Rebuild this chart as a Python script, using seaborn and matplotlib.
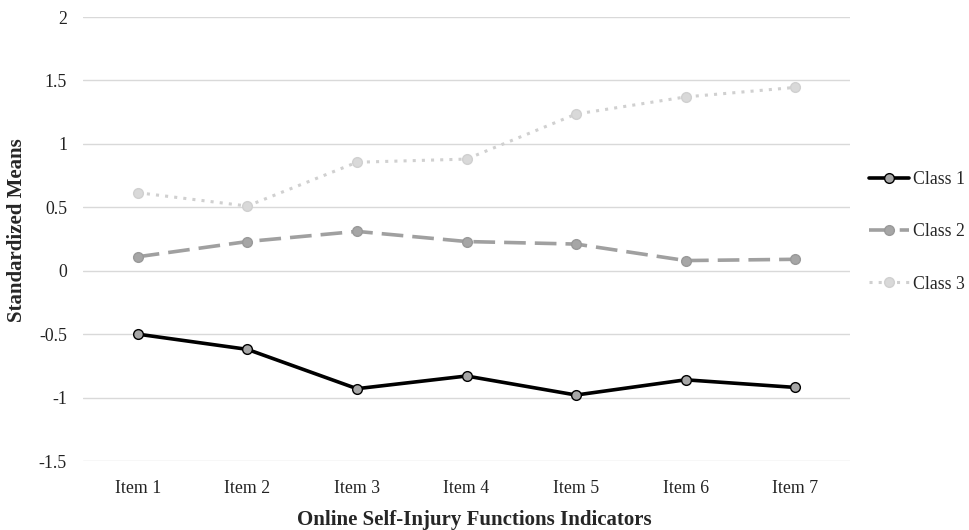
import pandas as pd
import matplotlib
matplotlib.use("Agg")
import matplotlib.pyplot as plt
import seaborn as sns

items = ["Item 1", "Item 2", "Item 3", "Item 4", "Item 5", "Item 6", "Item 7"]
class1 = [-0.50, -0.62, -0.93, -0.83, -0.98, -0.86, -0.92]
class2 = [0.11, 0.23, 0.31, 0.23, 0.21, 0.08, 0.09]
class3 = [0.615, 0.51, 0.855, 0.88, 1.235, 1.37, 1.445]
y_ticks = [-1.5, -1, -0.5, 0, 0.5, 1, 1.5, 2]
y_labels = ["-1.5", "-1", "-0.5", "0", "0.5", "1", "1.5", "2"]

df = pd.DataFrame({
    "item": items * 3,
    "mean": class1 + class2 + class3,
    "cls": ["Class 1"] * 7 + ["Class 2"] * 7 + ["Class 3"] * 7,
})

sns.set_theme(style="white")
plt.rcParams["font.family"] = ["Liberation Serif", "DejaVu Serif"]
fs = 12.8

fig = plt.figure(figsize=(9.69, 5.3), dpi=100)
ax = fig.add_axes([83 / 969, 1 - 461 / 530, 767 / 969, 444 / 530])

styles = {
    "Class 1": dict(color="black", mfc="#a6a6a6", mec="black", ls="-", lw=2.6),
    "Class 2": dict(color="#a0a0a0", mfc="#a6a6a6", mec="#999999", ls=(0, (6, 2.5)), lw=2.6),
    "Class 3": dict(color="#d0d0d0", mfc="#d9d9d9", mec="#d0d0d0", ls=(0, (1, 2)), lw=2.2),
}

for name, st in styles.items():
    sub = df[df["cls"] == name]
    sns.lineplot(data=sub, x="item", y="mean", ax=ax, label=name,
                 color=st["color"], linestyle=st["ls"], linewidth=st["lw"],
                 marker="o", markersize=7, markerfacecolor=st["mfc"],
                 markeredgecolor=st["mec"], markeredgewidth=1)

ax.set_xlim(-0.5, 6.5)
ax.set_ylim(-1.5, 2)
ax.set_yticks(y_ticks)
ax.set_yticklabels(y_labels)
ax.yaxis.grid(True, color="#d9d9d9", linewidth=1)
ax.set_axisbelow(True)
for s in ax.spines.values():
    s.set_visible(False)
ax.tick_params(axis="both", length=0, labelsize=fs, colors="#222222")
ax.tick_params(axis="x", pad=14)
ax.tick_params(axis="y", pad=11.5)
ax.set_xlabel("")
ax.set_ylabel("")

fig.text(474 / 969, 1 - 520 / 530, "Online Self-Injury Functions Indicators",
         fontsize=15, fontweight="bold", ha="center", va="center")
fig.text(17 / 969, 1 - 230 / 530, "Standardized Means", fontsize=15,
         fontweight="bold", rotation=90, ha="center", va="center")

ax.legend(loc="center left", bbox_to_anchor=(869 / 969, 1 - 232 / 530),
          bbox_transform=fig.transFigure, frameon=False, fontsize=fs,
          handlelength=2.25, handletextpad=0.22, labelspacing=1.98,
          borderpad=0, borderaxespad=0)

fig.savefig("out.png", dpi=100)
